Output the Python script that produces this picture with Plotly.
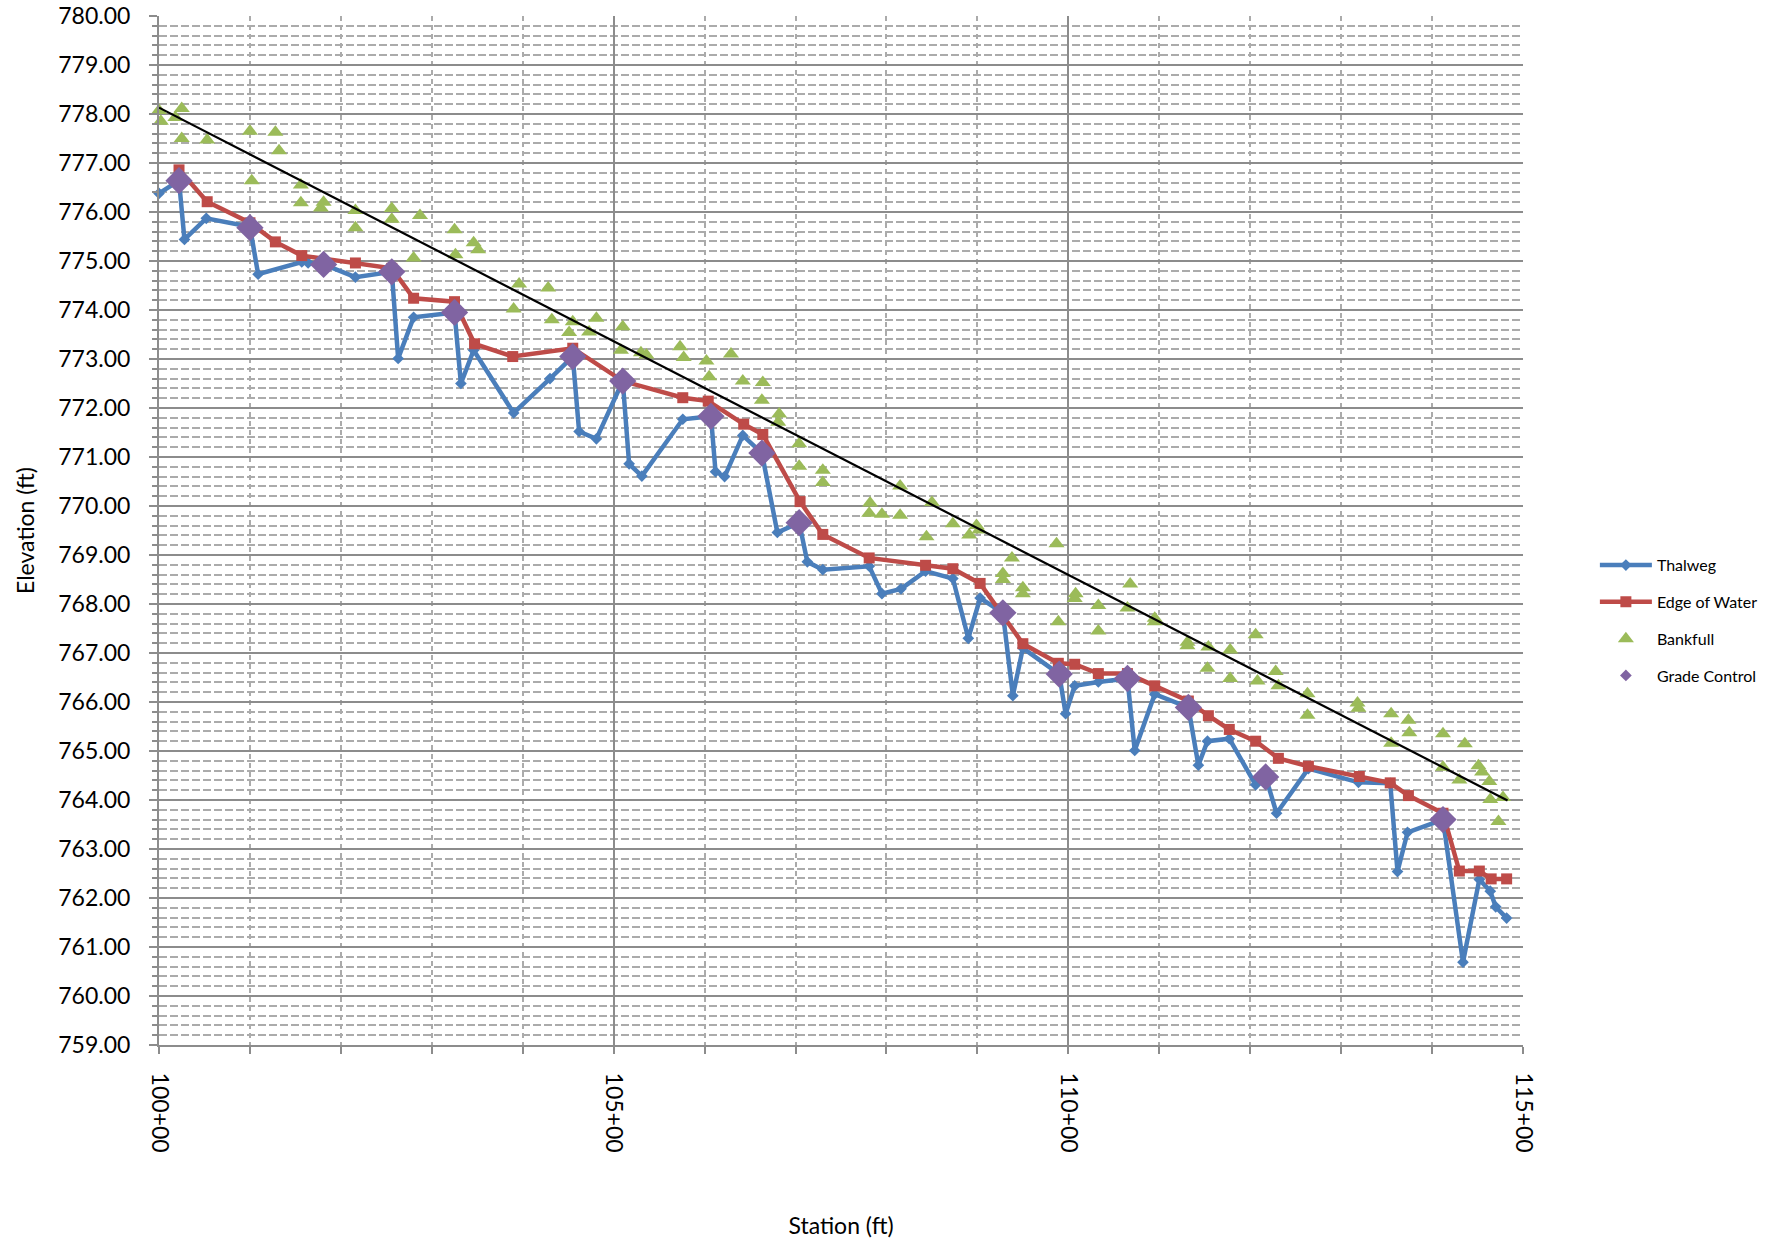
import plotly.graph_objects as go

# ---------------- data ----------------
thalweg_sta = [10000, 10022, 10028, 10052, 10100, 10109, 10157, 10164, 10181, 10216,
               10256, 10263, 10280, 10325, 10332, 10346, 10390, 10430, 10455, 10462,
               10481, 10510, 10517, 10531, 10576, 10607, 10612, 10622, 10642, 10663,
               10680, 10704, 10713, 10730, 10781, 10795, 10816, 10843, 10873, 10890,
               10903, 10928, 10939, 10950, 10990, 10997, 11007, 11033, 11065, 11073,
               11095, 11132, 11143, 11153, 11177, 11206, 11217, 11229, 11264, 11319,
               11354, 11362, 11373, 11412, 11434, 11452, 11464, 11470, 11482]
thalweg_elev = [776.38, 776.64, 775.44, 775.87, 775.70, 774.73, 774.98, 774.96, 774.93, 774.67,
                774.78, 773.01, 773.85, 773.95, 772.50, 773.18, 771.90, 772.60, 773.05, 771.52,
                771.37, 772.55, 770.86, 770.61, 771.77, 771.83, 770.70, 770.60, 771.44, 771.08,
                769.46, 769.66, 768.86, 768.70, 768.77, 768.21, 768.31, 768.67, 768.52, 767.30,
                768.12, 767.82, 766.13, 767.10, 766.57, 765.76, 766.33, 766.41, 766.48, 765.01,
                766.16, 765.89, 764.71, 765.20, 765.25, 764.31, 764.47, 763.73, 764.64, 764.36,
                764.34, 762.54, 763.34, 763.60, 760.69, 762.38, 762.14, 761.82, 761.59]

edge_sta = [10022, 10053, 10100, 10128, 10157, 10216, 10256, 10280, 10325, 10347,
            10389, 10455, 10510, 10576, 10604, 10643, 10664, 10705, 10730, 10781,
            10843, 10873, 10903, 10950, 10989, 11007, 11033, 11065, 11095, 11132,
            11154, 11177, 11206, 11231, 11264, 11320, 11354, 11374, 11412, 11430,
            11452, 11465, 11482]
edge_elev = [776.86, 776.21, 775.78, 775.39, 775.11, 774.96, 774.85, 774.24, 774.17, 773.31,
             773.05, 773.22, 772.55, 772.21, 772.14, 771.67, 771.46, 770.09, 769.42, 768.94,
             768.79, 768.72, 768.42, 767.19, 766.79, 766.77, 766.58, 766.58, 766.33, 766.02,
             765.72, 765.44, 765.20, 764.85, 764.69, 764.48, 764.35, 764.09, 763.73, 762.55,
             762.55, 762.39, 762.39]

bank_sta = [10000, 10002, 10018, 10025, 10025, 10053, 10100, 10102, 10128, 10132,
            10156, 10156, 10178, 10181, 10216, 10216, 10256, 10256, 10287, 10280,
            10325, 10326, 10346, 10351, 10390, 10396, 10428, 10432, 10451, 10455,
            10473, 10481, 10508, 10510, 10530, 10536, 10573, 10577, 10602, 10605,
            10629, 10642, 10663, 10664, 10681, 10682, 10704, 10704, 10730, 10730,
            10781, 10782, 10795, 10815, 10815, 10844, 10850, 10873, 10891, 10899,
            10902, 10928, 10928, 10938, 10950, 10950, 10987, 10989, 11007, 11008,
            11033, 11033, 11065, 11068, 11095, 11095, 11131, 11131, 11153, 11154,
            11178, 11178, 11206, 11208, 11228, 11231, 11263, 11263, 11318, 11319,
            11355, 11355, 11374, 11375, 11412, 11412, 11430, 11436, 11451, 11455,
            11463, 11464, 11478, 11473]
bank_elev = [778.07, 777.85, 777.93, 778.11, 777.50, 777.47, 777.65, 776.64, 777.63, 777.25,
             776.55, 776.19, 776.08, 776.20, 776.03, 775.68, 776.07, 775.85, 775.93, 775.06,
             775.64, 775.13, 775.37, 775.23, 774.02, 774.53, 774.45, 773.80, 773.54, 773.76,
             773.55, 773.83, 773.18, 773.66, 773.13, 773.08, 773.25, 773.03, 772.96, 772.64,
             773.10, 772.55, 772.16, 772.52, 771.71, 771.88, 771.27, 770.81, 770.73, 770.48,
             769.85, 770.06, 769.83, 770.41, 769.81, 769.37, 770.07, 769.64, 769.41, 769.60,
             769.51, 768.62, 768.50, 768.94, 768.33, 768.21, 769.23, 767.64, 768.11, 768.21,
             767.97, 767.45, 767.92, 768.41, 767.71, 767.64, 767.22, 767.15, 766.69, 767.12,
             767.06, 766.48, 767.37, 766.43, 766.62, 766.33, 766.17, 765.73, 765.98, 765.87,
             765.76, 765.16, 765.63, 765.37, 765.35, 764.67, 764.41, 765.15, 764.70, 764.57,
             764.38, 764.01, 764.05, 763.56]

grade_sta = [10022, 10100, 10181, 10256, 10325, 10455, 10510, 10607, 10663, 10704,
             10928, 10990, 11065, 11132, 11217, 11412]
grade_elev = [776.64, 775.68, 774.93, 774.78, 773.95, 773.05, 772.55, 771.83, 771.08, 769.66,
              767.82, 766.57, 766.48, 765.89, 764.47, 763.60]

trend_sta = [10000, 11483]
trend_elev = [778.13, 763.99]

x_tickvals = [10000, 10500, 11000, 11500]
x_ticktext = ["100+00", "105+00", "110+00", "115+00"]

# ---------------- styling ----------------
FONT = "Lato, 'Open Sans', sans-serif"
BLUE = "#4A7EBB"
RED = "#BE4B48"
GREEN = "#9BBB59"
PURPLE = "#8064A2"
MAJOR = "#8C8C8C"
MINOR = "#ABABAB"

fig = go.Figure()

fig.add_trace(go.Scatter(x=thalweg_sta, y=thalweg_elev, name="Thalweg", mode="lines+markers",
                         line=dict(color=BLUE, width=4.5),
                         marker=dict(symbol="diamond", size=9, color=BLUE),
                         legendgroup="a", cliponaxis=False))
fig.add_trace(go.Scatter(x=edge_sta, y=edge_elev, name="Edge of Water", mode="lines+markers",
                         line=dict(color=RED, width=4.5),
                         marker=dict(symbol="square", size=11, color=RED),
                         legendgroup="b", cliponaxis=False))
fig.add_trace(go.Scatter(x=bank_sta, y=bank_elev, name="Bankfull", mode="markers",
                         marker=dict(symbol="triangle-up", size=14, color=GREEN),
                         legendgroup="c", cliponaxis=False))
fig.add_trace(go.Scatter(x=trend_sta, y=trend_elev, mode="lines", showlegend=False,
                         line=dict(color="black", width=2.2), hoverinfo="skip"))
fig.add_trace(go.Scatter(x=grade_sta, y=grade_elev, name="Grade Control", mode="markers",
                         marker=dict(symbol="diamond", size=21, color=PURPLE),
                         legendgroup="d", showlegend=False, cliponaxis=False))
# legend entry for Grade Control (small symbol as in the original legend)
fig.add_trace(go.Scatter(x=[None], y=[None], name="Grade Control", mode="markers",
                         marker=dict(symbol="diamond", size=9, color=PURPLE),
                         legendgroup="d"))

fig.update_layout(
    width=1780, height=1243,
    margin=dict(l=159, r=257, t=16, b=198, autoexpand=False),
    paper_bgcolor="white", plot_bgcolor="white",
    font=dict(family=FONT, color="black", size=16),
    showlegend=True,
    legend=dict(xref="container", yref="container", x=0.896, y=0.559,
                xanchor="left", yanchor="top", itemwidth=52,
                tracegroupgap=13, font=dict(size=16, family=FONT),
                bgcolor="rgba(0,0,0,0)"),
    xaxis=dict(
        range=[10000, 11500], tickmode="array", tickvals=x_tickvals, ticktext=x_ticktext,
        tickangle=90, tickfont=dict(size=23, family=FONT),
        ticks="outside", ticklen=7, tickwidth=1.5, tickcolor=MAJOR,
        ticklabelstandoff=14,
        showline=True, linecolor=MAJOR, linewidth=2,
        showgrid=True, gridcolor=MAJOR, gridwidth=2,
        zeroline=False, automargin=False,
        minor=dict(dtick=100, tick0=10000, showgrid=True, gridcolor=MINOR, gridwidth=1.5,
                   griddash="5px,4px", ticks="outside", ticklen=7, tickcolor=MAJOR, tickwidth=1.5),
        title=dict(text="Station (ft)", font=dict(size=23, family=FONT), standoff=66),
    ),
    yaxis=dict(
        range=[759, 780], dtick=1, tick0=759, tickformat=".2f",
        tickfont=dict(size=23, family=FONT),
        ticks="outside", ticklen=8, tickwidth=1.5, tickcolor=MAJOR,
        ticklabelstandoff=14,
        showline=True, linecolor=MAJOR, linewidth=2,
        showgrid=True, gridcolor=MAJOR, gridwidth=2,
        zeroline=False, automargin=False,
        minor=dict(dtick=0.2, showgrid=True, gridcolor=MINOR, gridwidth=1.5,
                   griddash="8px,3px", ticks="outside", ticklen=5, tickcolor=MAJOR, tickwidth=1.5),
        title=dict(text="Elevation (ft)", font=dict(size=23, family=FONT), standoff=17),
    ),
)

fig.write_html("out.html")
